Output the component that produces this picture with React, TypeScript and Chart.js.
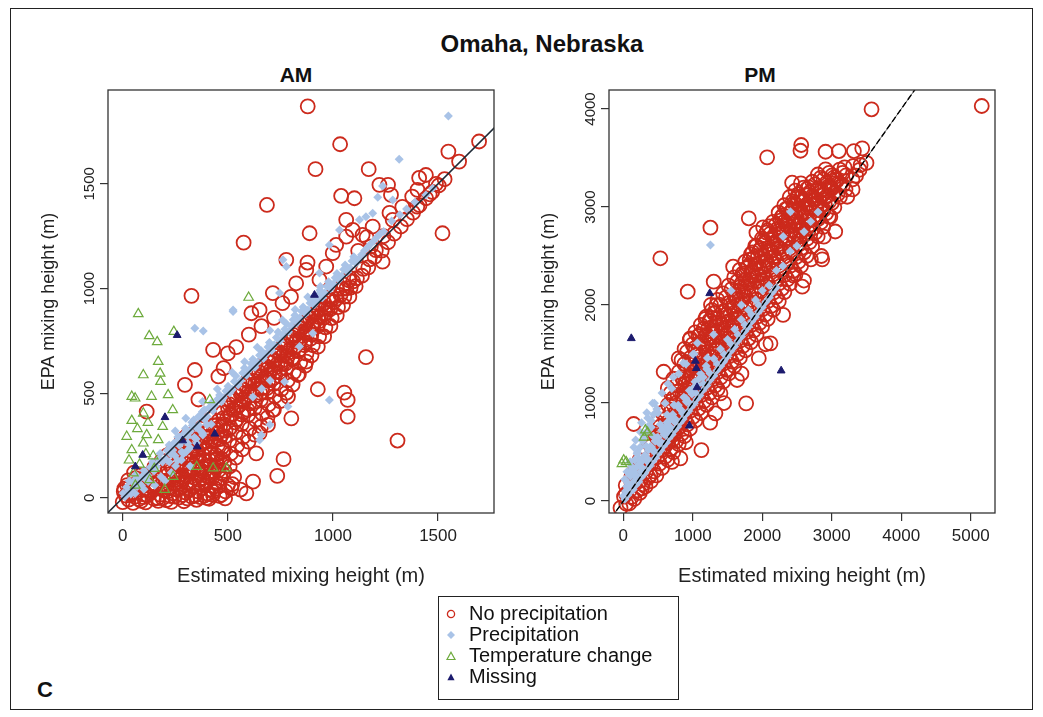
import React, { useEffect, useRef } from "react";
import { Chart, registerables } from "chart.js";
Chart.register(...registerables);

const FONT = '"Liberation Sans", Arial, Helvetica, sans-serif';

// ---------- axes ----------
const AM_X_TICKS = [0, 500, 1000, 1500];
const AM_Y_TICKS = [0, 500, 1000, 1500];
const PM_X_TICKS = [0, 1000, 2000, 3000, 4000, 5000];
const PM_Y_TICKS = [0, 1000, 2000, 3000, 4000];
const AM_X_RANGE = [-70, 1766];
const AM_Y_RANGE = [-72, 1948];
const PM_X_RANGE = [-206, 5350];
const PM_Y_RANGE = [-122, 4194];
const ONE_TO_ONE = [-1000, 7000];

// ---------- AM data ----------
const AM_NO_PRECIP: number[][] = [
  [880,1870],[1034,1689],[1695,1702],[1549,1654],[1600,1606],[917,1570],[1170,1570],[1221,1495],[1262,1495],
  [1410,1528],[1442,1542],[1402,1471],[1276,1447],[1039,1442],[1102,1431],[686,1399],[889,1264],[1521,1264],
  [575,1219],[1236,1128],[1094,1280],[1141,1256],[778,1137],[879,1124],[1015,1208],[327,965],[1401,1391],
  [1377,1439],[1269,1361],[1284,1328],[1189,1296],[1160,1245],[1063,1248],[999,1169],[873,1089],[825,1025],
  [714,978],[651,898],[612,882],[968,1105],[936,1041],[1063,1328],[1157,672],[1307,274],[928,519],[1054,503],
  [1070,468],[1070,388],[802,380],[765,185],[735,105],[620,78],[873,651],[833,587],[904,818],[714,420],
  [786,484],[691,349],[651,309],[635,213],[588,22],[517,46],[430,707],[343,611],[296,540],[114,412],
  [480,620],[455,580],[500,690],[360,470],[540,720],[600,780],[660,820],[720,860],[760,930],[800,960],
  [1460,1450],[1490,1500],[1330,1390],[1120,1180],[1180,1200],[1240,1250],
  [0,-20],[5,30],[28,-8],[33,52],[58,6],[62,95],[88,-14],[92,37],[95,82],[118,12],[124,58],[121,112],
  [148,-4],[152,43],[155,87],[151,148],[178,16],[183,62],[181,119],[186,178],[208,-11],[213,31],[207,83],
  [214,138],[211,203],[238,22],[243,66],[241,109],[246,172],[239,228],[268,2],[272,47],[266,94],[274,153],
  [270,208],[276,262],[298,26],[303,71],[297,128],[305,187],[301,243],[296,288],[328,6],[334,52],[326,103],
  [332,162],[329,219],[335,281],[358,31],[364,86],[357,139],[362,201],[366,254],[359,309],[388,11],[393,62],
  [386,121],[394,177],[391,236],[387,292],[419,41],[424,94],[417,157],[423,213],[421,272],[418,331],[448,72],
  [455,131],[447,188],[452,252],[449,311],[456,368],[478,112],[484,171],[479,228],[486,293],[481,351],
  [476,408],[509,151],[514,212],[507,273],[513,337],[511,394],[506,448],[538,192],[545,251],[537,312],
  [543,376],[541,429],[536,488],[568,232],[573,291],[566,352],[574,409],[571,468],[567,518],[598,269],
  [604,331],[597,396],[603,451],[600,508],[596,561],[628,302],[634,371],[627,428],[633,489],[631,546],
  [626,598],[658,341],[664,402],[657,469],[662,524],[660,581],[656,631],[688,382],[694,446],[687,503],
  [693,561],[690,616],[719,421],[724,486],[717,544],[723,601],[721,654],[748,462],[754,518],[747,581],
  [753,639],[751,688],[778,502],[784,561],[777,619],[783,676],[781,724],[808,541],[814,601],[807,661],
  [813,714],[811,762],[838,591],[844,646],[837,701],[843,751],[841,798],[868,631],[874,689],[867,741],
  [873,789],[871,833],[898,681],[904,729],[897,781],[903,829],[901,868],[928,722],[934,771],[927,819],
  [933,863],[931,899],[958,771],[964,814],[957,861],[963,904],[988,821],[994,859],[987,901],[993,944],
  [1018,871],[1024,911],[1017,951],[1048,921],[1054,961],[1047,998],[1078,961],[1084,1004],[1077,1039],
  [1108,1011],[1114,1049],[1138,1061],[1144,1094],[1168,1101],[1174,1139],[1198,1151],[1204,1183],
  [1232,1181],[1262,1221],[1291,1262],[1323,1296],[1352,1331],[1381,1362],[1412,1398],[1443,1431],
  [1472,1461],[1503,1492],[1531,1522],[400,0],[430,30],[470,15],[500,60],[530,100],[560,40],
  [15,11],[44,26],[76,-6],[104,16],[136,31],[166,-1],[194,36],[226,9],[254,41],[286,14],[316,36],[344,11],
  [376,46],[406,19],[21,61],[49,-24],[81,49],[109,-21],[141,71],[169,-14],[201,59],[231,-19],[259,86],
  [291,-16],[319,74],[351,-9],[379,96],[411,-4],[441,44],[461,9],[489,31],[521,66],
  [226,91],[254,119],[286,101],[314,126],[346,94],[374,131],[406,99],[434,126],[466,94],[231,149],[259,136],
  [291,169],[319,141],[351,176],[379,144],[411,181],[439,149],[471,186],[263,229],[291,236],[323,204],
  [351,231],[383,204],[411,241],[443,204],[471,241],[317,266],[349,274],[377,261],[409,289],[437,276],
  [469,299],[371,331],[403,319],[431,346],[463,339],
  [496,381],[524,421],[556,444],[584,481],[616,509],[644,546],[676,574],[704,611],[736,639],[764,681],
  [796,709],[824,746],[856,774],[884,806],[916,844],[944,871],[976,904],[1004,936],[1036,969],[1064,1001],
  [1096,1034],[501,429],[529,466],[561,499],[589,536],[621,559],[649,601],[681,629],[709,671],[741,699],
  [769,736],[801,769],[829,801],[861,834],[889,861],[921,884],[949,921],[981,949],[506,329],[534,361],
  [566,399],[594,421],[626,459],[654,501],[686,524],[714,571],[746,599],[774,641],[806,669],[834,701],
  [866,729],[894,761],
  [8,44],[38,16],[67,71],[99,4],[128,41],[157,66],[189,-1],[218,51],[247,6],[279,69],[307,-2],[338,61],
  [369,4],[397,71],[429,14],[458,56],[487,-2],[26,84],[54,121],[86,109],[131,96],
  [216,111],[244,96],[276,129],[304,106],[336,134],[364,111],[396,139],[424,111],[456,151],[484,129],
  [236,191],[264,166],[296,199],[324,176],[356,209],[384,181],[416,214],[444,181],[476,219],[281,271],
  [309,301],[341,249],[369,286],[401,269],[429,311],[461,281],[489,321],[391,351],[419,376],[451,349],[479,381],
  [511,469],[539,491],[571,519],[599,556],[631,584],[659,616],[691,649],[719,681],[751,714],[779,746],
  [811,779],[839,811],[871,844],[899,871],[931,904],[959,931],[991,964],[1019,996],[1051,1019],[1079,1051],
  [516,399],[544,431],[576,459],[604,491],[636,519],[664,556],[696,589],[724,621],[756,654],[784,691],
  [816,719],[844,756],[876,784],[904,816],[936,844],[964,881]
];

const AM_PRECIP: number[][] = [
  [1549,1824],[1315,1617],[1236,1490],[1213,1436],[1284,1423],[1442,1447],[1474,1479],[525,898],[983,1208],
  [1031,1280],[1189,1360],[1157,1343],[1126,1328],[762,1137],[778,1105],[936,1074],[746,978],[525,890],
  [343,810],[383,797],[983,468],[770,555],[651,277],[786,436],[841,723],[904,786],[659,300],[700,350],
  [2,22],[18,51],[41,38],[62,92],[79,68],[101,131],[119,108],[142,172],[161,149],[178,212],[202,188],
  [221,253],[238,229],[262,291],[281,268],[299,331],[322,318],[338,372],[361,348],[379,412],[402,389],
  [421,452],[438,441],[461,492],[479,478],[501,533],[522,518],[538,582],[561,559],[579,621],[602,612],
  [619,662],[641,648],[659,703],[682,688],[698,742],[721,731],[739,792],[762,778],[779,832],[801,821],
  [819,872],[842,859],[858,912],[881,898],[899,952],[922,941],[938,992],[961,978],[979,1032],[1002,1021],
  [1019,1072],[1041,1058],[1058,1112],[1082,1098],[1099,1152],[1121,1139],[1151,1182],[1178,1211],
  [1212,1248],[1241,1272],[1279,1322],[1318,1352],[1350,1380],[1390,1412],
  [201,82],[152,61],[251,152],[302,221],[351,262],[279,181],[231,121],[182,101],[101,42],[59,21],
  [321,151],[381,301],[421,352],[619,482],[701,561],[661,521],[450,520],[520,600],[580,650],[640,720],
  [300,380],[250,320],[380,460],[700,800],[760,850],[820,900],[880,960],[940,1010],
  [11,6],[29,36],[51,71],[69,54],[91,101],[109,89],[131,146],[149,129],[171,186],[189,171],[211,226],
  [229,209],[251,266],[269,251],[291,306],[309,294],[331,346],[349,336],[371,391],[389,374],[411,431],
  [429,416],[451,471],[469,459],[491,511],[509,501],[531,556],[549,539],[571,596],[589,586],[611,641],
  [629,624],[651,681],[669,666],[691,721],[709,704],[731,766],[749,751],[771,806],[789,794],[811,851],
  [829,836],[851,891],[869,879],[891,931],[909,921],[931,971],[949,956],[971,1011],[989,999],[1011,1051],
  [1029,1041],[1051,1091],[1069,1079],[1091,1131],[1109,1121],[1136,1161],[1164,1196],[1196,1229],[1224,1261],
  [221,171],[249,201],[281,219],[309,261],[341,289],[369,321],[401,349],[241,259],[269,291],[301,319],
  [329,361],[361,389],[389,421],[261,179],[289,211],[321,239],[349,281],[381,309],
  [31,81],[61,111],[89,59],[121,79],[39,19]
];

const AM_TEMP_CHANGE: number[][] = [
  [74,879],[126,774],[164,745],[243,794],[599,957],[169,651],[98,587],[178,595],[180,555],[43,484],
  [59,476],[137,484],[216,492],[238,420],[43,369],[98,404],[114,301],[19,293],[43,229],[98,261],
  [169,277],[145,200],[51,118],[128,86],[430,142],[493,142],[352,149],[240,102],[414,468],[80,160],
  [60,60],[150,140],[200,40],[110,210],[70,330],[120,360],[190,340],[30,180]
];

const AM_MISSING: number[][] = [
  [912,969],[259,777],[201,385],[285,274],[354,245],[438,306],[95,205],[60,150]
];

// ---------- PM data ----------
const PM_NO_PRECIP: number[][] = [
  [5159,4031],[3573,3997],[2070,3507],[2561,3633],[2550,3574],[2911,3564],[3103,3571],[3319,3571],
  [3439,3599],[3415,3429],[2911,3384],[3185,3405],[2430,3248],[2670,3201],[2512,3099],[2983,3207],
  [3223,3105],[1806,2885],[2013,2793],[1916,2738],[1254,2789],[533,2477],[1581,2391],[1301,2238],
  [927,2136],[2886,2697],[2863,2466],[2700,2466],[2575,2187],[2450,2300],[2980,2900],[2670,3000],
  [1768,997],[1124,520],[821,436],[149,786],[581,1319],[797,1456],[965,1660],[1326,895],[389,265],
  [269,130],[2118,1609],[1950,1456],[1638,1235],[1398,1099],[3350,3320],[3500,3450],[3300,3180],
  [-40,-70],[10,45],[35,160],[85,-25],[92,108],[118,255],[158,22],[166,171],[171,318],[238,84],[246,207],
  [233,418],[318,148],[326,297],[322,488],[397,203],[406,383],[399,561],[476,262],[487,448],[478,651],
  [484,806],[558,338],[566,523],[553,718],[562,903],[638,421],[646,598],[633,801],[644,982],[641,1152],
  [718,498],[726,683],[714,878],[724,1052],[719,1248],[798,581],[806,757],[793,948],[804,1123],[801,1318],
  [878,662],[886,838],[874,1022],[884,1201],[879,1398],[882,1552],[958,738],[966,921],[953,1103],
  [964,1281],[961,1458],[957,1648],[1038,822],[1046,998],[1034,1183],[1044,1362],[1041,1537],[1036,1721],
  [1118,898],[1126,1083],[1114,1262],[1124,1438],[1121,1622],[1116,1798],[1198,982],[1206,1158],
  [1194,1343],[1204,1522],[1201,1697],[1196,1882],[1278,1058],[1286,1242],[1274,1418],[1284,1603],
  [1281,1778],[1276,1948],[1358,1142],[1366,1318],[1354,1503],[1364,1677],[1361,1862],[1356,2052],
  [1438,1218],[1446,1403],[1434,1578],[1444,1762],[1441,1938],[1436,2118],[1518,1302],[1526,1478],
  [1514,1663],[1524,1838],[1521,2022],[1516,2198],[1598,1378],[1606,1562],[1594,1738],[1604,1923],
  [1601,2098],[1596,2282],[1678,1462],[1686,1638],[1674,1823],[1684,1998],[1681,2183],[1676,2358],
  [1758,1538],[1766,1723],[1754,1898],[1764,2082],[1761,2258],[1756,2442],[1838,1622],[1846,1798],
  [1834,1983],[1844,2158],[1841,2342],[1836,2518],[1918,1698],[1926,1882],[1914,2058],[1924,2242],
  [1921,2418],[1916,2602],[1998,1782],[2006,1958],[1994,2143],[2004,2318],[2001,2502],[1996,2678],
  [2078,1858],[2086,2042],[2074,2218],[2084,2402],[2081,2578],[2076,2762],[2158,1952],[2166,2128],
  [2154,2312],[2164,2488],[2161,2672],[2156,2848],[2238,2038],[2246,2222],[2234,2398],[2244,2582],
  [2241,2758],[2236,2942],[2318,2132],[2326,2308],[2314,2492],[2324,2668],[2321,2852],[2316,3018],
  [2398,2218],[2406,2402],[2394,2578],[2404,2762],[2401,2938],[2396,3102],[2478,2312],[2486,2488],
  [2474,2672],[2484,2848],[2481,3022],[2476,3168],[2558,2398],[2566,2582],[2554,2758],[2564,2942],
  [2561,3098],[2556,3242],[2638,2502],[2646,2678],[2634,2862],[2644,3028],[2641,3182],[2718,2598],
  [2726,2782],[2714,2948],[2724,3112],[2721,3258],[2798,2702],[2806,2878],[2794,3042],[2804,3188],
  [2801,3332],[2878,2798],[2886,2972],[2874,3128],[2884,3282],[2958,2902],[2966,3058],[2954,3212],
  [2964,3348],[3038,2998],[3046,3152],[3034,3302],[3118,3102],[3126,3238],[3114,3382],[3198,3178],
  [3206,3322],[3298,3282],[3306,3418],[3400,3380],[1450,1000],[1700,1300],[2050,1600],[2300,1900],
  [2600,2250],[2850,2500],[3050,2750],[1250,800],[900,600],[700,400],
  [42,-28],[37,72],[122,41],[117,188],[203,108],[197,272],[282,171],[277,348],[362,242],[357,431],[364,598],
  [442,302],[436,502],[445,698],[522,381],[517,562],[526,758],[602,452],[597,641],[606,838],[682,528],
  [677,722],[686,918],[681,1102],[762,612],[757,798],[766,1002],[761,1178],[842,688],[837,882],[846,1078],
  [841,1262],[838,1438],[922,782],[917,958],[926,1152],[921,1338],[918,1522],[1002,858],[997,1042],
  [1006,1228],[1001,1422],[998,1598],[1082,942],[1077,1118],[1086,1312],[1081,1498],[1078,1682],[1162,1018],
  [1157,1202],[1166,1388],[1161,1582],[1158,1758],[1242,1102],[1237,1278],[1246,1472],[1241,1658],
  [1238,1842],[1322,1178],[1317,1362],[1326,1548],[1321,1742],[1318,1918],[1402,1262],[1397,1438],
  [1406,1632],[1401,1818],[1398,2002],[1482,1338],[1477,1522],[1486,1708],[1481,1902],[1478,2078],
  [1562,1422],[1557,1598],[1566,1792],[1561,1978],[1558,2162],[1642,1498],[1637,1682],[1646,1868],
  [1641,2062],[1638,2238],[1722,1582],[1717,1758],[1726,1952],[1721,2138],[1718,2322],[1802,1658],
  [1797,1842],[1806,2028],[1801,2222],[1798,2398],[1882,1742],[1877,1918],[1886,2112],[1881,2298],
  [1878,2482],[1962,1818],[1957,2002],[1966,2188],[1961,2382],[1958,2558],[2042,1902],[2037,2078],
  [2046,2272],[2041,2458],[2038,2642],[2122,1988],[2117,2172],[2126,2358],[2121,2552],[2118,2728],
  [2202,2082],[2197,2258],[2206,2452],[2201,2638],[2198,2822],[2282,2168],[2277,2352],[2286,2538],
  [2281,2732],[2278,2898],[2362,2262],[2357,2438],[2366,2632],[2361,2808],[2358,2982],[2442,2348],
  [2437,2532],[2446,2718],[2441,2902],[2438,3058],[2522,2442],[2517,2618],[2526,2812],[2521,2978],
  [2518,3132],[2602,2538],[2597,2722],[2606,2898],[2601,3062],[2598,3198],[2682,2642],[2677,2818],
  [2686,2992],[2681,3148],[2762,2738],[2757,2912],[2766,3078],[2761,3232],[2842,2842],[2837,3008],
  [2846,3172],[2841,3298],[2922,2938],[2917,3102],[2926,3248],[3002,3042],[2997,3188],[3006,3322],
  [3082,3128],[3077,3272],[3162,3222],[3157,3348],
  [603,562],[622,758],[661,642],[702,718],[698,932],[741,802],[779,878],[782,1082],[821,958],[859,1042],
  [862,1238],[901,1118],[939,1202],[942,1398],[981,1278],[1019,1362],[1022,1558],[1061,1438],[1099,1522],
  [1102,1698],[1141,1602],[1179,1682],[1182,1858],[1221,1762],[1259,1838],[1262,2002],[1301,1918],
  [1339,1998],[1381,1582],[1419,1662],[1461,1738],[1499,1822],[1541,1898],[1579,1982],[1621,2058],
  [1659,2142],[1701,2218],[1739,2302],[1781,2378],[1819,2462],[1861,2538],[1899,2602],[1379,1382],
  [1421,1458],[1459,1542],[1501,1618],[1539,1702],[1581,1778],[1619,1862],[1661,1938],[1699,2022],
  [1741,2098],[1779,2182],[1821,2258],[1859,2342],[1901,2418],[1939,2502],[1981,2578],[2019,2662],
  [2061,2738],[2099,2802],[1941,2298],[1979,2222],[2021,2382],[2059,2458],[2101,2542],[2139,2618],
  [2181,2702],[2219,2778],[2261,2862],[2299,2918],[2341,2982],[2141,2422],[2179,2498],[2221,2582],
  [2259,2658],[2301,2742],[2339,2818],[2381,2882],[2419,2958],[2461,3042],[2499,3098],[2381,2682],
  [2419,2758],[2461,2842],[2499,2898],[2541,2982],[2579,3058],[2621,3122],[2539,2702],[2581,2778],
  [2619,2862],[2661,2938],[2699,3022],[2741,3078],[2779,3162],[2661,2742],[2699,2818],[2741,2902],
  [2779,2978],[2821,3062],[2859,3118],[2901,3182],[2819,2902],[2861,2958],[2899,3032],[2941,3118],
  [2979,3182],[3021,3238],[3059,3282],[1299,1502],[1341,1558],[1339,1782],[1301,1718],[1219,1442],
  [1181,1398],[1139,1362],[1101,1298],[1059,1242],[1021,1158],[979,1102],[941,1018],[899,962],[861,878],
  [819,822],[781,738],[739,682],[701,618]
];

const PM_PRECIP: number[][] = [
  [1254,2612],[2406,2952],[1552,2146],[1020,1500],[1300,1700],[1700,2000],[2300,2700],[865,1408],
  [1066,1612],[1210,1459],[1441,1418],
  [2,52],[48,148],[103,252],[151,198],[198,352],[252,298],[301,452],[348,402],[403,548],[451,498],
  [498,652],[552,598],[601,748],[648,702],[703,852],[751,798],[798,952],[852,898],[901,1048],[948,1002],
  [1003,1152],[1051,1098],[1098,1252],[1152,1198],[1201,1348],[1248,1302],[1303,1452],[1351,1398],
  [1398,1552],[1452,1498],[1501,1648],[1548,1602],[1603,1752],[1651,1698],[1698,1852],[1752,1798],
  [1801,1948],[1848,1902],[1903,2052],[1951,1998],[2002,2148],[2098,2202],[2203,2352],[2298,2398],
  [2402,2548],[2498,2602],[2603,2748],[2698,2852],[2802,2948],
  [98,402],[203,498],[298,652],[402,752],[498,902],[602,998],[698,1148],[152,548],[248,702],[352,848],
  [52,298],[448,998],[798,1298],[902,1398],[1002,1498],[20,220],[130,330],[230,430],[330,560],[430,660],
  [530,780],[630,880],[730,980],[60,120],[160,260],[260,400],[360,520],[460,610],[560,720],[660,820],
  [31,101],[72,178],[109,152],[151,302],[188,258],[232,381],[268,342],[311,468],[349,432],[392,558],
  [428,521],[471,642],[509,598],[552,722],[588,678],[631,802],[669,758],[712,882],[748,838],[791,978],
  [829,932],[872,1058],[908,1012],[951,1128],[989,1092],[1032,1218],[1068,1182],[1111,1298],[1149,1262],
  [1192,1378],[82,278],[118,352],[162,418],[198,482],[242,548],[278,612],[322,698],[358,762],[402,818],
  [438,882],[482,938],[178,622],[262,798],[338,902],[422,998],[558,1102],[642,1198],[718,1262],
  [21,18],[62,58],[98,92],[141,118],[178,162],[222,198],[258,242],[302,278],[338,322],[382,358],[418,402],
  [462,438],[498,482],[542,518],[578,562],[622,598],[658,642],[702,678],[738,722],[782,758],[818,802],
  [862,838],[898,882],[942,918],[978,962],[1022,998],[1058,1042],[1102,1078],[1148,1132],[1202,1178],
  [1248,1232],[1302,1278],[1348,1332],[1402,1378],[1448,1432],[1502,1478],[1548,1532],[1602,1578],
  [1648,1632],[1702,1678],[1748,1732],[1802,1778],[1848,1832],[1902,1878],[1948,1932],[2002,1978],
  [2048,2032],[2102,2078],[2148,2132],[2202,2178]
];

const PM_TEMP_CHANGE: number[][] = [
  [317,724],[5,418],[300,650],[350,700],[-20,380],[40,400]
];

const PM_MISSING: number[][] = [
  [115,1660],[1037,1429],[1052,1354],[1062,1160],[2272,1330],[951,768],[1244,2119]
];

// ---------- styles ----------
const RED = "#cc2a1c";
const BLUE = "#a9c3e7";
const GREEN = "#6daa3c";
const NAVY = "#1c1b6e";

const toXY = (arr: number[][]) => arr.map(([x, y]) => ({ x, y }));

const boxPlugin = {
  id: "frameBox",
  afterDraw(chart: any) {
    const { ctx, chartArea } = chart;
    const { left, top, right, bottom } = chartArea;
    ctx.save();
    ctx.strokeStyle = "#333";
    ctx.lineWidth = 1.3;
    ctx.strokeRect(left, top, right - left, bottom - top);
    ctx.restore();
  },
};

type PanelProps = {
  left: number;
  top: number;
  width: number;
  height: number;
  yAxisWidth: number;
  xRange: number[];
  yRange: number[];
  xTicks: number[];
  yTicks: number[];
  noPrecip: number[][];
  precip: number[][];
  tempChange: number[][];
  missing: number[][];
  dashed: boolean;
};

function Panel(p: PanelProps) {
  const ref = useRef<HTMLCanvasElement>(null);
  useEffect(() => {
    const lineData = ONE_TO_ONE.map((v) => ({ x: v, y: v }));
    const lineSets: any[] = p.dashed
      ? [
          { type: "line", data: lineData, showLine: true, borderColor: "#000", borderWidth: 1.4, borderDash: [6, 3], pointRadius: 0, order: 0 },
          { type: "line", data: lineData, showLine: true, borderColor: "#666", borderWidth: 1, pointRadius: 0, order: 1 },
        ]
      : [{ type: "line", data: lineData, showLine: true, borderColor: "#1f2a36", borderWidth: 1.5, pointRadius: 0, order: 0 }];
    const tickCb = (v: any) => String(v);
    const chart = new Chart(ref.current as HTMLCanvasElement, {
      type: "scatter",
      data: {
        datasets: [
          ...lineSets,
          { label: "Missing", data: toXY(p.missing), pointStyle: "triangle", pointRadius: 4.5, backgroundColor: NAVY, borderColor: NAVY, borderWidth: 1, order: 2 },
          { label: "Temperature change", data: toXY(p.tempChange), pointStyle: "triangle", pointRadius: 5.5, backgroundColor: "rgba(0,0,0,0)", borderColor: GREEN, borderWidth: 1.2, order: 3 },
          { label: "Precipitation", data: toXY(p.precip), pointStyle: "rectRot", pointRadius: 4.5, backgroundColor: BLUE, borderColor: BLUE, borderWidth: 0, order: 4 },
          { label: "No precipitation", data: toXY(p.noPrecip), pointStyle: "circle", pointRadius: 7, backgroundColor: "rgba(0,0,0,0)", borderColor: RED, borderWidth: 1.8, order: 5 },
        ],
      },
      options: {
        animation: false,
        responsive: false,
        events: [],
        layout: { autoPadding: false, padding: { left: 0, right: p.width - p.yAxisWidth - 386, top: 10, bottom: 0 } },
        plugins: { legend: { display: false }, tooltip: { enabled: false }, title: { display: false } },
        scales: {
          x: {
            type: "linear",
            min: p.xRange[0],
            max: p.xRange[1],
            afterBuildTicks: (s: any) => { s.ticks = p.xTicks.map((v) => ({ value: v })); },
            afterFit: (s: any) => { s.height = p.height - 10 - 423; },
            grid: { display: true, drawOnChartArea: false, drawTicks: true, tickLength: 8, color: "#333", lineWidth: 1.2 },
            border: { display: false },
            ticks: { callback: tickCb, autoSkip: false, maxRotation: 0, font: { family: FONT, size: 17 }, color: "#222", padding: 5 },
            title: { display: true, text: "Estimated mixing height (m)", color: "#222", font: { family: FONT, size: 20 }, padding: { top: 0, bottom: 12 } },
          },
          y: {
            type: "linear",
            min: p.yRange[0],
            max: p.yRange[1],
            afterBuildTicks: (s: any) => { s.ticks = p.yTicks.map((v) => ({ value: v })); },
            afterFit: (s: any) => { s.width = p.yAxisWidth; },
            grid: { display: true, drawOnChartArea: false, drawTicks: true, tickLength: 8, color: "#333", lineWidth: 1.2 },
            border: { display: false },
            ticks: { callback: tickCb, autoSkip: false, minRotation: 90, maxRotation: 90, crossAlign: "center", font: { family: FONT, size: 15 }, color: "#222", padding: -7 },
            title: { display: true, text: "EPA mixing height (m)", color: "#222", font: { family: FONT, size: 18 }, padding: { top: 18, bottom: 0 } },
          },
        },
      } as any,
      plugins: [boxPlugin],
    });
    return () => chart.destroy();
  }, []);
  return (
    <canvas
      ref={ref}
      width={p.width}
      height={p.height}
      style={{ position: "absolute", left: p.left, top: p.top, width: p.width, height: p.height }}
    />
  );
}

function Marker({ kind }: { kind: string }) {
  let shape: any = null;
  if (kind === "circle") shape = <circle cx="6" cy="6" r="3.6" fill="none" stroke={RED} strokeWidth="1.3" />;
  if (kind === "diamond") shape = <polygon points="6,2 10,6 6,10 2,6" fill={BLUE} />;
  if (kind === "tri") shape = <polygon points="6,2.2 10,9.5 2,9.5" fill="none" stroke={GREEN} strokeWidth="1.2" />;
  if (kind === "trifill") shape = <polygon points="6,2.5 9.6,9.2 2.4,9.2" fill={NAVY} />;
  return (
    <svg width="12" height="12" style={{ position: "absolute", left: 6, top: 5 }}>
      {shape}
    </svg>
  );
}

const LEGEND_ITEMS = [
  { kind: "circle", label: "No precipitation" },
  { kind: "diamond", label: "Precipitation" },
  { kind: "tri", label: "Temperature change" },
  { kind: "trifill", label: "Missing" },
];

export default function App() {
  return (
    <div style={{ position: "absolute", left: 0, top: 0, width: 1043, height: 717, background: "#fff", fontFamily: FONT, color: "#111" }}>
      <div style={{ position: "absolute", left: 10, top: 8, width: 1023, height: 702, border: "1.5px solid #222", boxSizing: "border-box" }} />
      <div style={{ position: "absolute", left: 242, top: 30, width: 600, textAlign: "center", fontSize: 24, fontWeight: "bold", lineHeight: "28px" }}>
        Omaha, Nebraska
      </div>
      <div style={{ position: "absolute", left: 196, top: 62, width: 200, textAlign: "center", fontSize: 21, fontWeight: "bold", lineHeight: "26px" }}>AM</div>
      <div style={{ position: "absolute", left: 660, top: 62, width: 200, textAlign: "center", fontSize: 21, fontWeight: "bold", lineHeight: "26px" }}>PM</div>
      <Panel left={20} top={80} width={500} height={520} yAxisWidth={88} xRange={AM_X_RANGE} yRange={AM_Y_RANGE}
        xTicks={AM_X_TICKS} yTicks={AM_Y_TICKS} noPrecip={AM_NO_PRECIP} precip={AM_PRECIP} tempChange={AM_TEMP_CHANGE} missing={AM_MISSING} dashed={false} />
      <Panel left={520} top={80} width={500} height={520} yAxisWidth={89} xRange={PM_X_RANGE} yRange={PM_Y_RANGE}
        xTicks={PM_X_TICKS} yTicks={PM_Y_TICKS} noPrecip={PM_NO_PRECIP} precip={PM_PRECIP} tempChange={PM_TEMP_CHANGE} missing={PM_MISSING} dashed={true} />
      <div style={{ position: "absolute", left: 438, top: 596, width: 241, height: 104, border: "1.3px solid #222", boxSizing: "border-box", paddingTop: 6 }}>
        {LEGEND_ITEMS.map((it) => (
          <div key={it.label} style={{ position: "relative", height: 21, lineHeight: "21px", fontSize: 20, paddingLeft: 30, whiteSpace: "nowrap" }}>
            <Marker kind={it.kind} />
            {it.label}
          </div>
        ))}
      </div>
      <div style={{ position: "absolute", left: 37, top: 677, fontSize: 22, fontWeight: "bold", lineHeight: "26px" }}>C</div>
    </div>
  );
}
